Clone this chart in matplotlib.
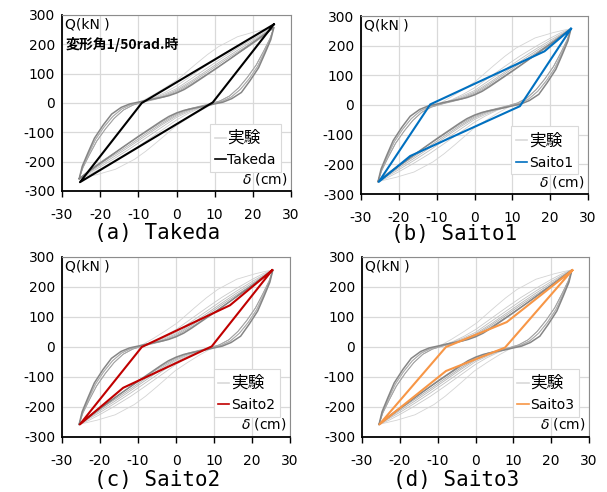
import matplotlib
matplotlib.use("Agg")
import matplotlib.pyplot as plt
from matplotlib.lines import Line2D

plt.rcParams['font.family'] = ['DejaVu Sans', 'Noto Sans CJK JP']
plt.rcParams['axes.unicode_minus'] = False

# ---------------- data ----------------
x_ticks = [-30, -20, -10, 0, 10, 20, 30]
y_ticks = [-300, -200, -100, 0, 100, 200, 300]
panel_titles = ["(a) Takeda", "(b) Saito1", "(c) Saito2", "(d) Saito3"]
model_names = ["Takeda", "Saito1", "Saito2", "Saito3"]

# analytical models (closed loops)
takeda_x = [25.5, 9.5, -25.3, -9.1, 25.5]
takeda_y = [268, 2, -270, 0, 268]
saito1_x = [25.5, 12.0, -17.0, -25.3, -11.7, 18.5, 25.5]
saito1_y = [257, -4, -172, -259, 2, 181, 257]
saito2_x = [25.3, 9.4, -13.9, -25.3, -9.0, 14.2, 25.3]
saito2_y = [256, 2, -136, -258, 0, 139, 256]
saito3_x = [25.6, 7.8, -7.8, -25.4, -7.8, 8.25, 25.6]
saito3_y = [256, -2, -80, -258, 0, 83, 256]

# experiment: dark outer loop
exp_dark_up_x = [-25.5, -24.7, -23.2, -21.5, -19.2, -17.0, -14.5, -12.2, -10.0, -8, -6, -4, -2, 0, 2, 4, 7, 10, 14, 18, 22, 25.5]
exp_dark_up_y = [-258, -216, -170, -120, -75, -38, -15, -3, 3, 9, 14, 19, 25, 34, 46, 62, 88, 114, 150, 187, 224, 257]
exp_dark_dn_x = [25.5, 24.7, 23.2, 21.5, 19.2, 17.0, 14.5, 12.2, 10.0, 8, 6, 4, 2, 0, -2, -4, -7, -10, -14, -18, -22, -25.5]
exp_dark_dn_y = [257, 216, 170, 120, 75, 36, 15, 3, -3, -9, -14, -19, -25, -34, -46, -62, -88, -114, -150, -187, -224, -258]

# experiment: light cycles (steep part + pinched band part)
steep_up_a_x = [-25.5, -24.6, -23.0, -21.2, -19.0, -16.7, -14.3, -11.8, -9.7]
steep_up_a_y = [-258, -218, -172, -124, -82, -46, -20, -5, 2]
steep_up_b_x = [-25.5, -24.5, -22.8, -20.9, -18.6, -16.3, -13.9, -11.4, -9.3]
steep_up_b_y = [-258, -220, -176, -130, -88, -52, -24, -7, 1]
steep_dn_a_x = [25.5, 24.6, 23.0, 21.2, 19.0, 16.7, 14.3, 11.8, 9.7]
steep_dn_a_y = [257, 218, 172, 124, 82, 46, 20, 5, -2]
steep_dn_b_x = [25.5, 24.5, 22.8, 20.9, 18.6, 16.3, 13.9, 11.4, 9.3]
steep_dn_b_y = [257, 220, 176, 130, 88, 52, 24, 7, -1]

band_up_x = [-6.3, -3, 0.3, 5, 8, 11, 16, 20.8, 23.5, 25.5]
band_up_1_y = [26, 52, 80, 132, 164, 192, 226, 244, 252, 257]
band_up_2x = [-6, -3, 0, 4, 8, 12, 16, 20, 23, 25.5]
band_up_2_y = [18, 36, 58, 94, 130, 165, 196, 225, 245, 257]
band_up_3_y = [16, 31, 49, 84, 119, 154, 187, 218, 240, 257]
band_up_4_y = [14, 27, 44, 76, 111, 146, 180, 212, 237, 257]
band_up_5_y = [13, 24, 40, 71, 105, 140, 174, 207, 234, 257]
band_up_6_y = [11, 21, 36, 66, 99, 133, 168, 202, 230, 257]

band_dn_x = [6.3, 3, -0.3, -5, -8, -11, -16, -20.8, -23.5, -25.5]
band_dn_1_y = [-26, -52, -80, -132, -164, -192, -226, -244, -252, -258]
band_dn_2x = [6, 3, 0, -4, -8, -12, -16, -20, -23, -25.5]
band_dn_2_y = [-18, -36, -58, -94, -130, -165, -196, -225, -245, -258]
band_dn_3_y = [-16, -31, -49, -84, -119, -154, -187, -218, -240, -258]
band_dn_4_y = [-14, -27, -44, -76, -111, -146, -180, -212, -237, -258]
band_dn_5_y = [-13, -24, -40, -71, -105, -140, -174, -207, -234, -258]
band_dn_6_y = [-11, -21, -36, -66, -99, -133, -168, -202, -230, -258]

# ---------------- figure ----------------
fig = plt.figure(figsize=(6.07, 4.92), dpi=100)
positions = [
    [62 / 607, (492 - 191) / 492, 229 / 607, 176 / 492],
    [361 / 607, (492 - 194) / 492, 227 / 607, 178 / 492],
    [62 / 607, (492 - 437) / 492, 228 / 607, 180 / 492],
    [362 / 607, (492 - 437) / 492, 227 / 607, 180 / 492],
]
title_pos = [(157 / 607, 1 - 233 / 492), (454 / 607, 1 - 234 / 492),
             (157 / 607, 1 - 480 / 492), (456 / 607, 1 - 480 / 492)]
model_data = [(takeda_x, takeda_y), (saito1_x, saito1_y), (saito2_x, saito2_y), (saito3_x, saito3_y)]
model_colors = ["#000000", "#0070C0", "#C00000", "#F79646"]

light_loops = [
    (steep_up_a_x + band_up_x, steep_up_a_y + band_up_1_y, steep_dn_a_x + band_dn_x, steep_dn_a_y + band_dn_1_y, "#d4d4d4"),
    (steep_up_b_x + band_up_2x, steep_up_b_y + band_up_2_y, steep_dn_b_x + band_dn_2x, steep_dn_b_y + band_dn_2_y, "#cacaca"),
    (steep_up_a_x + band_up_2x, steep_up_a_y + band_up_3_y, steep_dn_a_x + band_dn_2x, steep_dn_a_y + band_dn_3_y, "#c0c0c0"),
    (steep_up_b_x + band_up_2x, steep_up_b_y + band_up_4_y, steep_dn_b_x + band_dn_2x, steep_dn_b_y + band_dn_4_y, "#b5b5b5"),
    (steep_up_a_x + band_up_2x, steep_up_a_y + band_up_5_y, steep_dn_a_x + band_dn_2x, steep_dn_a_y + band_dn_5_y, "#ababab"),
    (steep_up_b_x + band_up_2x, steep_up_b_y + band_up_6_y, steep_dn_b_x + band_dn_2x, steep_dn_b_y + band_dn_6_y, "#a3a3a3"),
]

for i in range(4):
    ax = fig.add_axes(positions[i])
    ax.set_xlim(-30, 30)
    ax.set_ylim(-300, 300)
    ax.set_xticks(x_ticks)
    ax.set_yticks(y_ticks)
    ax.grid(True, color="#d9d9d9", lw=0.9)
    ax.set_axisbelow(True)
    for s in ["top", "right"]:
        ax.spines[s].set_color("#8c8c8c")
        ax.spines[s].set_linewidth(0.8)
    for s in ["left", "bottom"]:
        ax.spines[s].set_color("#000000")
        ax.spines[s].set_linewidth(1.3)
    ax.tick_params(axis="x", direction="out", length=4, width=1, pad=8, labelsize=10)
    ax.tick_params(axis="y", length=0, pad=5, labelsize=10)

    for ux, uy, dx, dy, c in light_loops:
        ax.plot(ux + dx, uy + dy, color=c, lw=0.6, zorder=2)
    ax.plot(exp_dark_up_x + exp_dark_dn_x, exp_dark_up_y + exp_dark_dn_y, color="#858585", lw=1.1, zorder=3)

    mx, my = model_data[i]
    ax.plot(mx, my, color=model_colors[i], lw=1.5, zorder=4)

    ax.text(0.015, 0.985, "Q(kN )", transform=ax.transAxes, ha="left", va="top", fontsize=10)
    ax.text(0.985, 0.025, r"$\delta$ (cm)", transform=ax.transAxes, ha="right", va="bottom", fontsize=10)
    if i == 0:
        ax.text(0.015, 0.83, "変形角1/50rad.時", transform=ax.transAxes, ha="left", va="center",
                fontsize=10, fontweight="bold", family=["Noto Sans CJK JP", "DejaVu Sans"])

    handles = [Line2D([], [], color="#d9d9d9", lw=1.2), Line2D([], [], color=model_colors[i], lw=1.2)]
    leg = ax.legend(handles, ["実験", model_names[i]], loc="lower right", bbox_to_anchor=(0.955, 0.11),
                    borderaxespad=0, frameon=True, fancybox=False, framealpha=1, edgecolor="#d9d9d9",
                    handlelength=0.8, handletextpad=0.1, labelspacing=0.45, borderpad=0.35, fontsize=10)
    leg.get_texts()[0].set_fontsize(12)
    leg.get_frame().set_linewidth(0.8)

    fig.text(title_pos[i][0], title_pos[i][1], panel_titles[i], ha="center", va="center",
             fontsize=15, family=["DejaVu Sans Mono"])

fig.savefig("out.png", dpi=100)
